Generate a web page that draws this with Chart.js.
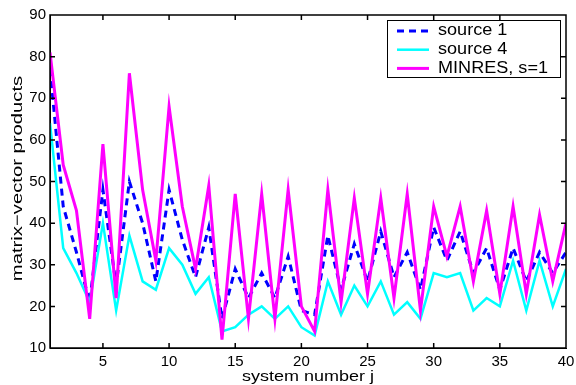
<!DOCTYPE html>
<html>
<head>
<meta charset="utf-8">
<script src="https://cdn.jsdelivr.net/npm/chart.js@4.4.1/dist/chart.umd.min.js"></script>
<style>
  html, body { margin: 0; padding: 0; background: #fff; }
  #wrap { width: 576px; height: 385px; }
</style>
</head>
<body>
<div id="wrap"><canvas id="chart"></canvas></div>
<script>
// values, system number j = 1..40
const systems = Array.from({ length: 40 }, (_, i) => i + 1);
const source1 = [77, 44, 33, 21, 48, 25, 50, 40, 26, 48, 36, 27, 39, 17, 29, 22, 28, 22, 32, 19,
                 18, 37, 24, 35, 26, 38, 27, 33, 24, 39, 31, 38, 28, 34, 24, 34, 26, 33, 28, 33];
const source4 = [64, 34, 28, 21, 40, 19, 37, 26, 24, 34, 30, 23, 27, 14, 15, 18, 20, 17, 20, 15,
                 13, 26, 18, 25, 20, 26, 18, 21, 17, 28, 27, 28, 19, 22, 20, 31, 19, 31, 20, 29];
const minres = [81, 54, 43, 17, 59, 22, 76, 48, 31, 68, 44, 29, 49, 12, 47, 17, 47, 17, 48, 20,
                14, 48, 21, 46, 23, 46, 22, 47, 19, 44, 32, 44, 26, 43, 23, 44, 23, 42, 26, 40];
const xTicks = [5, 10, 15, 20, 25, 30, 35, 40];
const yTicks = [10, 20, 30, 40, 50, 60, 70, 80, 90];
const xTitle = 'system number j';
const yTitle = 'matrix\u2212vector products';

const FONT = 'Liberation Sans, Arial, Helvetica, sans-serif';

function toPoints(vals) {
    return vals.map((v, i) => ({ x: systems[i], y: v }));
}

// text a bit wider than the font gives, like the matlab export
function wideText(ctx, text, x, y, sx, angle) {
    ctx.save();
    ctx.translate(x, y);
    if (angle) ctx.rotate(angle);
    ctx.scale(sx, 1);
    ctx.fillText(text, 0, 0);
    ctx.restore();
}

// inward ticks, axis titles and the legend box
const framePlugin = {
    id: 'matlabFrame',
    afterDraw(chart) {
        const ctx = chart.ctx;
        const xs = chart.scales.x, ys = chart.scales.y;
        const L = xs.left, R = xs.right, T = ys.top, B = ys.bottom;
        ctx.save();
        ctx.strokeStyle = 'rgb(0,0,0)';
        ctx.lineWidth = 1.5;
        ctx.beginPath();
        ctx.rect(L, T, R - L, B - T);
        xTicks.forEach(t => {
            const x = xs.getPixelForValue(t);
            ctx.moveTo(x, B); ctx.lineTo(x, B - 5);
            ctx.moveTo(x, T); ctx.lineTo(x, T + 5);
        });
        yTicks.forEach(t => {
            const y = ys.getPixelForValue(t);
            ctx.moveTo(L, y); ctx.lineTo(L + 5, y);
            ctx.moveTo(R, y); ctx.lineTo(R - 5, y);
        });
        ctx.stroke();

        // axis titles
        ctx.fillStyle = '#000';
        ctx.font = '15px ' + FONT;
        ctx.textAlign = 'center';
        ctx.textBaseline = 'middle';
        wideText(ctx, xTitle, (L + R) / 2, 377, 1.2, 0);
        wideText(ctx, yTitle, 18, (T + B) / 2 - 3, 1.35, -Math.PI / 2);

        // legend
        const items = chart.data.datasets.filter(ds => ds.label).sort((p, q) => p.legendIndex - q.legendIndex);
        const left = 387, top = 20, w = 173, h = 57, rowH = 18.7;
        ctx.fillStyle = '#fff';
        ctx.fillRect(left, top, w, h);
        ctx.strokeStyle = '#000';
        ctx.lineWidth = 1;
        ctx.strokeRect(left + 0.5, top + 0.5, w, h);
        ctx.font = '16px ' + FONT;
        ctx.textAlign = 'left';
        items.forEach((ds, i) => {
            const y = top + 11 + i * rowH;
            ctx.beginPath();
            ctx.strokeStyle = ds.borderColor;
            ctx.lineWidth = ds.borderWidth;
            ctx.setLineDash(ds.borderDash || []);
            ctx.moveTo(left + 10, y);
            ctx.lineTo(left + 42, y);
            ctx.stroke();
            ctx.setLineDash([]);
            ctx.fillStyle = '#000';
            wideText(ctx, ds.label, left + 51, y, 1.13, 0);
        });
        ctx.restore();
    }
};

new Chart(document.getElementById('chart'), {
    type: 'line',
    data: {
        datasets: [
            {
                label: 'source 1',
                legendIndex: 0,
                data: toPoints(source1),
                borderColor: '#0000ff',
                borderWidth: 3,
                borderDash: [7, 5],
                pointRadius: 0,
                tension: 0,
                order: 3
            },
            {
                label: 'source 4',
                legendIndex: 1,
                data: toPoints(source4),
                borderColor: '#00ffff',
                borderWidth: 2.5,
                pointRadius: 0,
                tension: 0,
                order: 2
            },
            {
                label: 'MINRES, s=1',
                legendIndex: 2,
                data: toPoints(minres),
                borderColor: '#ff00ff',
                borderWidth: 3,
                pointRadius: 0,
                tension: 0,
                order: 1
            }
        ]
    },
    options: {
        responsive: true,
        maintainAspectRatio: false,
        animation: false,
        layout: { padding: { left: 0, top: 15, right: 10, bottom: 0 } },
        plugins: {
            legend: { display: false },
            tooltip: { enabled: false }
        },
        scales: {
            x: {
                type: 'linear',
                min: 1,
                max: 40,
                afterBuildTicks: s => { s.ticks = xTicks.map(v => ({ value: v })); },
                afterFit: s => { s.height = 37; s.paddingLeft = 0; s.paddingRight = 0; },
                grid: { display: false, tickLength: 0 },
                border: { display: true, color: '#000', width: 1 },
                ticks: { color: '#000', font: { family: FONT, size: 15 }, padding: 5, maxRotation: 0 }
            },
            y: {
                min: 10,
                max: 90,
                afterBuildTicks: s => { s.ticks = yTicks.map(v => ({ value: v })); },
                afterFit: s => { s.width = 50; },
                grid: { display: false, tickLength: 0 },
                border: { display: true, color: '#000', width: 1 },
                ticks: { color: '#000', font: { family: FONT, size: 15 }, padding: 4 }
            }
        }
    },
    plugins: [framePlugin]
});
</script>
</body>
</html>
